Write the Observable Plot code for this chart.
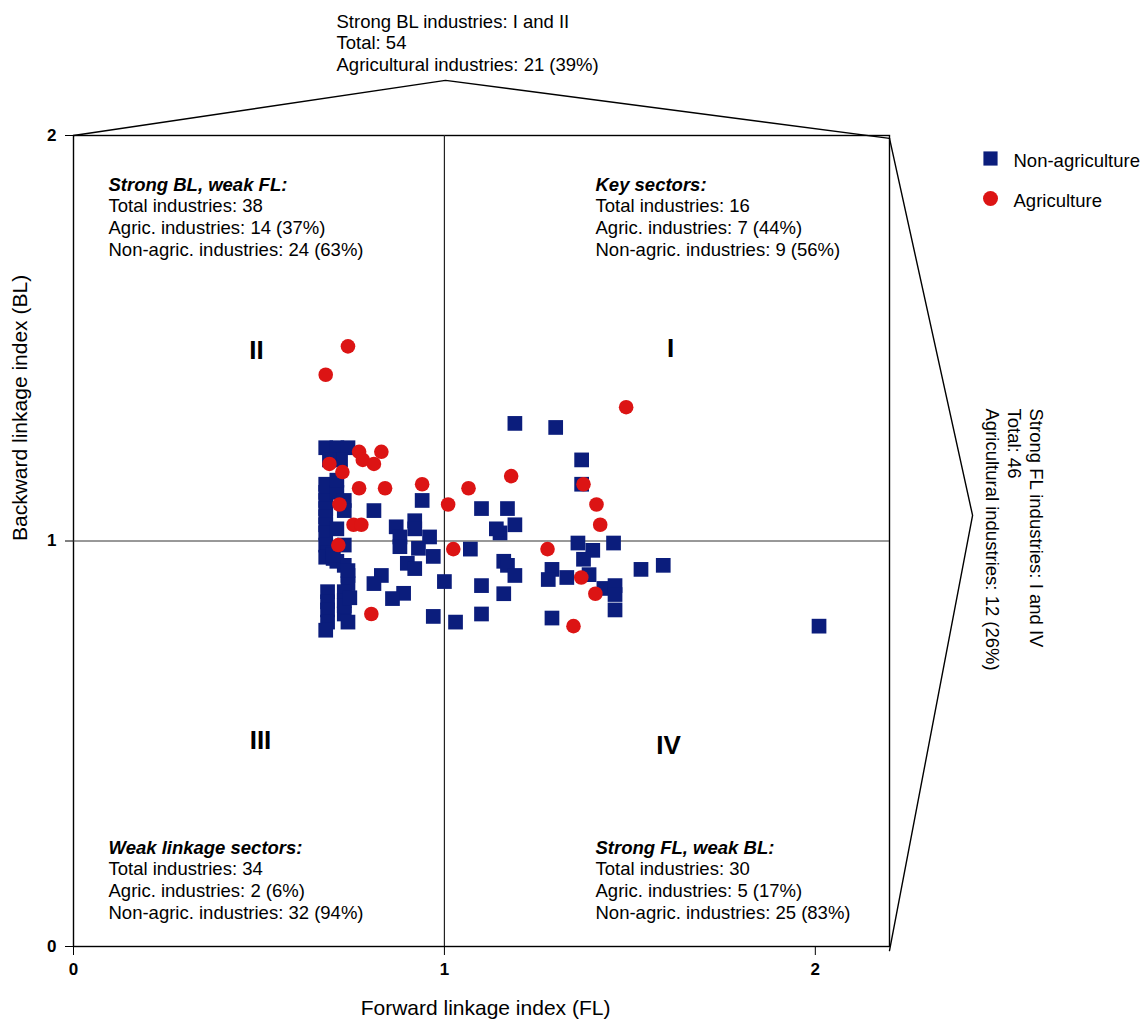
<!DOCTYPE html>
<html><head><meta charset="utf-8">
<script src="https://cdn.jsdelivr.net/npm/d3@7"></script>
<script src="https://cdn.jsdelivr.net/npm/@observablehq/plot@0.6"></script>
<style>body{margin:0;background:#fff;} svg{display:block}</style>
</head><body><div id="chart"></div>
<script>
// ---- data ----
const xTicks = [0, 1, 2];
const yTicks = [0, 1, 2];
const seriesNames = ["Non-agriculture", "Agriculture"];

const agX = [0.74,0.68,1.49,0.77,0.78,0.83,0.81,0.69,0.725,0.77,0.84,0.94,1.065,1.18,1.375,0.717,1.01,1.41,1.42,0.755,0.776,0.714,1.024,1.278,1.369,1.407,0.803,1.348];
const agY = [1.48,1.41,1.33,1.22,1.20,1.22,1.19,1.19,1.17,1.13,1.13,1.14,1.13,1.16,1.14,1.09,1.09,1.09,1.04,1.04,1.04,0.99,0.98,0.98,0.91,0.87,0.82,0.79];

const nonAgX = [
  // II
  0.68,0.71,0.74,0.72,0.69, 0.68,0.68,0.68,0.68,0.68,0.68,0.68, 0.71,0.73,0.73,0.71, 0.81,0.94,0.87,0.92,0.92,0.88,0.96, 0.71,
  // I
  1.19,1.30,1.37,1.37,1.10,1.17,1.19,1.15,1.14,
  // IV
  1.07,1.16,1.17,1.19,1.00,1.10,1.16,1.29,1.28,1.33,1.36,1.40,1.375,1.39,1.43,1.46,1.46,1.46,1.456,1.53,1.59,1.03,1.10,1.29,2.01,
  // III
  0.68,0.685,0.68,0.685,0.685,0.685,0.685,0.68, 0.70,0.71,0.73,0.74,0.74,0.73,0.73,0.73,0.73,0.74,0.73, 0.88,0.93,0.97,0.90,0.92,0.83,0.81,0.89,0.86,0.97, 0.70,0.745,0.74
];
const nonAgY = [
  1.23,1.23,1.23,1.20,1.20, 1.14,1.12,1.10,1.08,1.06,1.04,1.02, 1.12,1.10,1.075,1.03, 1.075,1.10,1.035,1.05,1.03,1.01,1.01, 1.15,
  1.29,1.28,1.20,1.14,1.08,1.08,1.04,1.02,1.03,
  0.98,0.95,0.94,0.915,0.90,0.89,0.87,0.93,0.905,0.91,0.995,0.977,0.955,0.917,0.883,0.89,0.868,0.83,0.995,0.93,0.94,0.80,0.82,0.81,0.79,
  0.99,0.97,0.96,0.875,0.85,0.83,0.80,0.78, 0.957,0.95,0.94,0.915,0.895,0.875,0.853,0.82,0.99,0.927,0.84, 0.986,0.982,0.962,0.945,0.932,0.915,0.895,0.871,0.858,0.814, 0.965,0.86,0.80
];

const topNote = ["Strong BL industries: I and II", "Total: 54", "Agricultural industries: 21 (39%)"];
const rightNote = ["Strong FL industries: I and IV", "Total: 46", "Agricultural industries: 12 (26%)"];
const quadII = ["Strong BL, weak FL:", "Total industries: 38", "Agric. industries: 14 (37%)", "Non-agric. industries: 24 (63%)"];
const quadI = ["Key sectors:", "Total industries: 16", "Agric. industries: 7 (44%)", "Non-agric. industries: 9 (56%)"];
const quadIII = ["Weak linkage sectors:", "Total industries: 34", "Agric. industries: 2 (6%)", "Non-agric. industries: 32 (94%)"];
const quadIV = ["Strong FL, weak BL:", "Total industries: 30", "Agric. industries: 5 (17%)", "Non-agric. industries: 25 (83%)"];
const numerals = ["I", "II", "III", "IV"];
const xLabel = "Forward linkage index (FL)";
const yLabel = "Backward linkage index (BL)";

// ---- build ----
const nonAg = nonAgX.map((x, i) => ({x, y: nonAgY[i]}));
const ag = agX.map((x, i) => ({x, y: agY[i]}));
const BLUE = "#0b1d7c", RED = "#dc1414";
const FONT = "'Liberation Sans', Arial, sans-serif";
const FS = 18.5;

function block(lines, dx, dy0) {
  return lines.map((t, i) => Plot.text([t], {
    frameAnchor: "top-left", dx, dy: dy0 + i * 21.8, textAnchor: "start",
    fontSize: FS, fontWeight: i === 0 ? "bold" : "normal",
    fontStyle: i === 0 ? "italic" : "normal", fill: "black"
  }));
}
function plain(lines, dx, dy0, step) {
  return lines.map((t, i) => Plot.text([t], {
    frameAnchor: "top-left", dx, dy: dy0 + i * step, textAnchor: "start",
    fontSize: FS, fontWeight: "normal", fill: "black"
  }));
}

const topArrow = [{x: 0, y: 2}, {x: 1.003, y: 2.136}, {x: 2.2, y: 1.993}];
const rightArrow = [{x: 2.2, y: 1.993}, {x: 2.424, y: 1.063}, {x: 2.2, y: -0.01}];

const chart = Plot.plot({
  width: 1146, height: 1024,
  marginLeft: 73, marginRight: 257, marginTop: 135, marginBottom: 78,
  style: {fontFamily: FONT, fontSize: "17px", fontWeight: "bold", background: "white", color: "black"},
  x: {domain: [0, 2.2], ticks: xTicks, tickFormat: "d", tickSize: 9, tickPadding: 7, label: null},
  y: {domain: [0, 2], ticks: yTicks, tickFormat: "d", tickSize: 8, tickPadding: 9, label: null},
  marks: [
    Plot.frame({stroke: "black", strokeWidth: 1.4}),
    Plot.ruleY([1], {stroke: "#333", strokeWidth: 1}),
    Plot.ruleX([1], {stroke: "#222", strokeWidth: 1.2}),
    Plot.line(topArrow, {x: "x", y: "y", stroke: "black", strokeWidth: 1.4}),
    Plot.line(rightArrow, {x: "x", y: "y", stroke: "black", strokeWidth: 1.4}),
    Plot.dot(nonAg, {x: "x", y: "y", symbol: "square", r: 8.3, fill: BLUE, stroke: "none"}),
    Plot.dot(ag, {x: "x", y: "y", symbol: "circle", r: 7.3, fill: RED, stroke: "none"}),
    // quadrant blocks
    ...block(quadII, 35, 42),
    ...block(quadI, 522, 42),
    ...block(quadIII, 35, 705),
    ...block(quadIV, 522, 705),
    // numerals
    Plot.text([numerals[1]], {frameAnchor: "top-left", dx: 183, dy: 205, fontSize: 26, fontWeight: "bold", textAnchor: "middle"}),
    Plot.text([numerals[0]], {frameAnchor: "top-left", dx: 597, dy: 203, fontSize: 26, fontWeight: "bold", textAnchor: "middle"}),
    Plot.text([numerals[2]], {frameAnchor: "top-left", dx: 187, dy: 595, fontSize: 26, fontWeight: "bold", textAnchor: "middle"}),
    Plot.text([numerals[3]], {frameAnchor: "top-left", dx: 595, dy: 600, fontSize: 26, fontWeight: "bold", textAnchor: "middle"}),
    // top note
    ...plain(topNote, 263, -121, 21.6),
    // right note (rotated)
    ...rightNote.map((t, i) => Plot.text([t], {
      frameAnchor: "top-left", dx: 970 - i * 22, dy: 273, rotate: 90,
      textAnchor: "start", fontSize: FS, fontWeight: "normal"
    })),
    // legend
    Plot.dot([seriesNames[0]], {frameAnchor: "top-left", dx: 917, dy: 23, symbol: "square", r: 8, fill: BLUE}),
    Plot.dot([seriesNames[1]], {frameAnchor: "top-left", dx: 917, dy: 63, symbol: "circle", r: 7.5, fill: RED}),
    Plot.text([seriesNames[0]], {frameAnchor: "top-left", dx: 940, dy: 18, textAnchor: "start", fontSize: FS, fontWeight: "normal"}),
    Plot.text([seriesNames[1]], {frameAnchor: "top-left", dx: 940, dy: 58, textAnchor: "start", fontSize: FS, fontWeight: "normal"}),
    // axis labels
    Plot.text([xLabel], {frameAnchor: "bottom", dx: 4, dy: 68, fontSize: 21, fontWeight: "normal"}),
    Plot.text([yLabel], {frameAnchor: "left", dx: -53, rotate: -90, fontSize: 21, fontWeight: "normal"})
  ]
});
document.getElementById("chart").appendChild(chart);
</script></body></html>
